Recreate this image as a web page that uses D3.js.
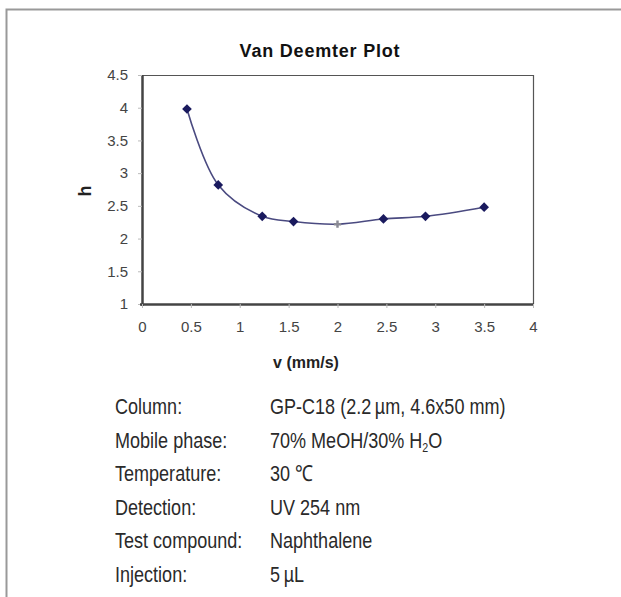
<!DOCTYPE html>
<html>
<head>
<meta charset="utf-8">
<script src="https://cdn.jsdelivr.net/npm/d3@7/dist/d3.min.js"></script>
<style>
	body { margin: 0; background: #fff; }
	svg { display: block; }
</style>
</head>
<body>
<svg id="chart" width="621" height="597"></svg>
<script>
// Data
const velocity = [0.46, 0.78, 1.23, 1.55, 2.0, 2.47, 2.9, 3.5];
const plateHeight = [3.98, 2.82, 2.34, 2.26, 2.22, 2.3, 2.34, 2.48];
const xTicks = [0, 0.5, 1, 1.5, 2, 2.5, 3, 3.5, 4];
const yTicks = [1, 1.5, 2, 2.5, 3, 3.5, 4, 4.5];

const infoLabels = ['Column:', 'Mobile phase:', 'Temperature:', 'Detection:', 'Test compound:', 'Injection:'];
const infoValues = ['GP-C18 (2.2\u2009\u00b5m, 4.6x50 mm)', '70% MeOH/30% H|2|O', '30 \u2103', 'UV 254 nm', 'Naphthalene', '5\u2009\u00b5L'];

const svg = d3.select('#chart');

// outer frame (runs off the right and bottom edges)
svg.append('path')
	.attr('d', 'M6.5,640 V9.5 H660')
	.attr('fill', 'none')
	.attr('stroke', '#999')
	.attr('stroke-width', 2);

const plot = { left: 142, right: 533, top: 75, bottom: 304 };

const x = d3.scaleLinear().domain([0, 4]).range([plot.left, plot.right]);
const y = d3.scaleLinear().domain([1, 4.5]).range([plot.bottom, plot.top]);

// title
svg.append('text')
	.attr('x', 320)
	.attr('y', 57)
	.attr('text-anchor', 'middle')
	.attr('font-family', 'Liberation Sans, Arial, sans-serif')
	.attr('font-weight', 'bold')
	.attr('font-size', 18)
	.attr('letter-spacing', 0.8)
	.attr('fill', '#111')
	.text('Van Deemter Plot');

// top and right of plot box
svg.append('path')
	.attr('d', `M${plot.left},${plot.top + 0.5} H${plot.right + 0.5} V${plot.bottom}`)
	.attr('fill', 'none')
	.attr('stroke', '#555')
	.attr('stroke-width', 1.2);

// axes
const yAxis = svg.append('g')
	.attr('transform', `translate(${plot.left},0)`)
	.call(d3.axisLeft(y).tickValues(yTicks).tickSize(4).tickPadding(10).tickFormat(d3.format('')));

const xAxis = svg.append('g')
	.attr('transform', `translate(0,${plot.bottom})`)
	.call(d3.axisBottom(x).tickValues(xTicks).tickSize(4).tickPadding(13).tickFormat(d3.format('')));

[xAxis, yAxis].forEach((ax) => {
	ax.select('.domain').attr('stroke', '#444').attr('stroke-width', 2.5);
	ax.selectAll('.tick line').attr('stroke', '#bbb').attr('stroke-width', 1);
	ax.selectAll('.tick text')
		.attr('font-family', 'Liberation Sans, Arial, sans-serif')
		.attr('font-size', 15)
		.attr('fill', '#444');
});
xAxis.select('.domain').attr('d', `M${plot.left - 2},0.5H${plot.right + 1}`);
yAxis.select('.domain').attr('d', `M0.5,${plot.top}V${plot.bottom + 2}`);

// axis titles
svg.append('text')
	.attr('x', 306)
	.attr('y', 368)
	.attr('text-anchor', 'middle')
	.attr('font-family', 'Liberation Sans, Arial, sans-serif')
	.attr('font-weight', 'bold')
	.attr('font-size', 16)
	.attr('fill', '#222')
	.text('v (mm/s)');

svg.append('text')
	.attr('transform', 'translate(91,191) rotate(-90)')
	.attr('text-anchor', 'middle')
	.attr('font-family', 'Liberation Sans, Arial, sans-serif')
	.attr('font-weight', 'bold')
	.attr('font-size', 18)
	.attr('fill', '#222')
	.text('h');

// smoothed line + markers
const points = velocity.map((v, i) => ({ v, h: plateHeight[i] }));

const line = d3.line()
	.x((d) => x(d.v))
	.y((d) => y(d.h))
	.curve(d3.curveCatmullRom.alpha(0.5));

svg.append('path')
	.datum(points)
	.attr('d', line)
	.attr('fill', 'none')
	.attr('stroke', '#4a4a80')
	.attr('stroke-width', 1.6);

const diamond = d3.symbol().type(d3.symbolDiamond2).size(60);

svg.selectAll('.marker')
	.data(points)
	.join('path')
	.attr('class', 'marker')
	.attr('transform', (d) => `translate(${x(d.v)},${y(d.h)})`)
	.attr('d', (d) => (d.v === 2.0 ? d3.symbol().type(d3.symbolCross).size(30)() : diamond()))
	.attr('fill', (d) => (d.v === 2.0 ? '#8a8a95' : '#1a1a5e'));

// conditions table, squeezed to look like the condensed face in the original
const info = svg.append('g')
	.attr('font-family', 'Liberation Sans, Arial, sans-serif')
	.attr('font-size', 22)
	.attr('fill', '#2a2a2a');

const squeeze = 0.82;
const rowY = (i) => 414 + i * 33.6;

info.selectAll('.info-label')
	.data(infoLabels)
	.join('text')
	.attr('class', 'info-label')
	.attr('transform', (_, i) => `translate(115,${rowY(i)}) scale(${squeeze},1)`)
	.text((d) => d);

info.selectAll('.info-value')
	.data(infoValues)
	.join('text')
	.attr('class', 'info-value')
	.attr('transform', (_, i) => `translate(270,${rowY(i)}) scale(${squeeze},1)`)
	.each(function (d) {
		const parts = d.split('|');
		const t = d3.select(this);
		parts.forEach((p, j) => {
			const span = t.append('tspan').text(p);
			if (j % 2 === 1) span.attr('font-size', 13).attr('dy', 4);
			else if (j > 0) span.attr('dy', -4);
		});
	});
</script>
</body>
</html>
